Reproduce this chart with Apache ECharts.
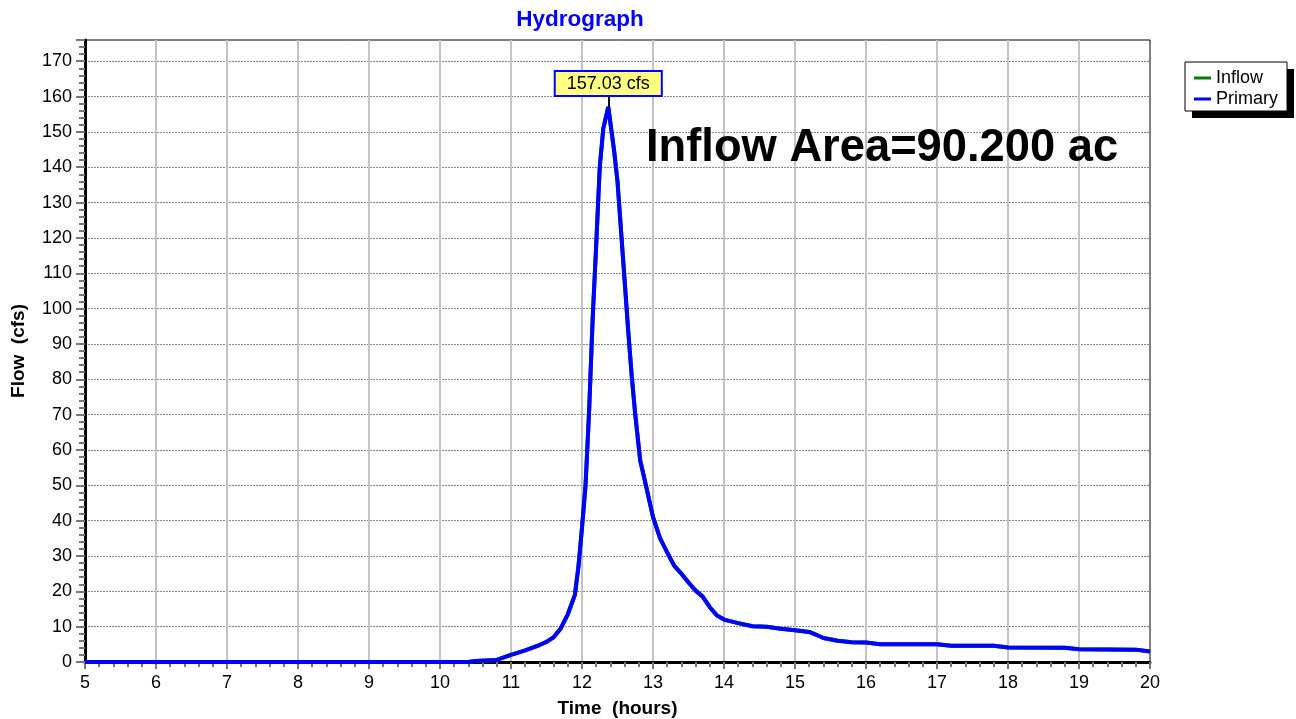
<!DOCTYPE html>
<html><head><meta charset="utf-8">
<script src="https://cdn.jsdelivr.net/npm/echarts@6/dist/echarts.min.js"></script>
<style>html,body{margin:0;padding:0;background:#fff}#c{width:1296px;height:719px}</style>
</head><body><div id="c"></div>
<script>
const times = [5,10.4,10.5,10.8,11.0,11.2,11.4,11.5,11.6,11.7,11.8,11.9,11.95,12.0,12.05,12.1,12.15,12.2,12.25,12.3,12.37,12.45,12.5,12.55,12.6,12.65,12.7,12.75,12.82,12.9,13.0,13.1,13.2,13.3,13.4,13.5,13.6,13.7,13.8,13.9,14.0,14.2,14.4,14.6,14.8,15.0,15.2,15.3,15.4,15.6,15.8,16.0,16.2,17.0,17.2,17.8,18.0,18.8,19.0,19.8,20.0];
const primary = [0,0,0.3,0.6,2.0,3.3,4.8,5.7,7.0,9.5,13.5,19,27,38,50,71,97,118,140,151,157.03,145,136,122,108,94,81,70,57,50,41,35,31,27.2,25,22.5,20.2,18.5,15.5,13.2,12,11,10.1,10,9.4,9,8.5,7.7,6.8,6,5.6,5.5,5,5,4.6,4.6,4.1,4.0,3.6,3.5,3.0];
const inflow = primary.slice();
const peakTime = 12.37, peakValue = 157.03;
const xTicks = [5,6,7,8,9,10,11,12,13,14,15,16,17,18,19,20];
const yTicks = [0,10,20,30,40,50,60,70,80,90,100,110,120,130,140,150,160,170];
const peakLabel = '157.03 cfs';
const areaNote = 'Inflow Area=90.200 ac';

const pair = arr => times.map((t,i)=>[t,arr[i]]);
const F = 'Liberation Sans, Arial, sans-serif';
const legendBase = {
  right:9,top:62,orient:'vertical',padding:[7,9,3,9],
  itemWidth:17,itemHeight:3,itemGap:3,icon:'rect',
  data:['Inflow','Primary']
};
const chart = echarts.init(document.getElementById('c'));
chart.setOption({
  animation:false,
  textStyle:{fontFamily:F},
  title:[
    {text:'Hydrograph',left:575,top:3,textAlign:'center',textStyle:{color:'#0000ff',fontSize:22.5,fontWeight:'bold',fontFamily:F}},
    {text:areaNote,left:641,top:121,textStyle:{color:'#000',fontSize:45.3,fontWeight:'bold',fontFamily:F}}
  ],
  legend:[
    Object.assign({}, legendBase, {
      backgroundColor:'#fff',borderWidth:0,
      shadowColor:'#000',shadowOffsetX:7,shadowOffsetY:7,shadowBlur:0,
      textStyle:{fontSize:18,color:'#000',fontFamily:F}
    }),
    Object.assign({}, legendBase, {
      backgroundColor:'transparent',borderColor:'#000',borderWidth:1,
      itemStyle:{opacity:0},lineStyle:{opacity:0},
      textStyle:{fontSize:18,color:'rgba(0,0,0,0)',fontFamily:F}
    })
  ],
  grid:{left:85,right:146,top:40,bottom:57,outerBoundsMode:'none',containLabel:false,show:true,borderColor:'#000',borderWidth:1,backgroundColor:'#fff'},
  xAxis:{
    type:'value',min:xTicks[0],max:xTicks[xTicks.length-1],interval:1,
    name:'Time  (hours)',nameLocation:'middle',nameGap:37,
    nameTextStyle:{fontSize:19,fontWeight:'bold',color:'#000',fontFamily:F},
    axisLine:{onZero:false,lineStyle:{color:'#000',width:3}},
    axisTick:{show:true,length:7,lineStyle:{color:'#777',width:2}},
    minorTick:{show:true,splitNumber:5,length:5,lineStyle:{color:'#777',width:2}},
    axisLabel:{fontSize:18,color:'#000',margin:12,fontFamily:F},
    splitLine:{show:true,showMaxLine:false,showMinLine:false,lineStyle:{color:'#c4c4c4',width:2}}
  },
  yAxis:{
    type:'value',min:yTicks[0],max:176,interval:10,
    name:'Flow  (cfs)',nameLocation:'middle',nameGap:57,nameRotate:90,
    nameTextStyle:{fontSize:19,fontWeight:'bold',color:'#000',fontFamily:F},
    axisLine:{onZero:false,lineStyle:{color:'#000',width:3}},
    axisTick:{show:true,length:9,lineStyle:{color:'#777',width:2}},
    minorTick:{show:true,splitNumber:5,length:6,lineStyle:{color:'#777',width:2}},
    axisLabel:{fontSize:18,color:'#000',margin:13,showMaxLabel:false,fontFamily:F},
    splitLine:{show:true,showMaxLine:false,showMinLine:false,lineStyle:{color:'#888',width:1,type:[2,1]}}
  },
  series:[
    {name:'Inflow',type:'line',data:pair(inflow),showSymbol:false,symbol:'none',
     lineStyle:{color:'#008000',width:4},itemStyle:{color:'#008000'},z:2},
    {name:'Primary',type:'line',data:pair(primary),showSymbol:false,symbol:'none',
     lineStyle:{color:'#0000ff',width:4},itemStyle:{color:'#0000ff'},z:3,
     markLine:{silent:true,symbol:'none',label:{show:false},
       lineStyle:{color:'#000',width:2,type:'solid'},
       data:[[{coord:[peakTime,peakValue]},{coord:[peakTime,160.4]}]]},
     markPoint:{silent:true,symbol:'rect',symbolSize:0,
       data:[{coord:[peakTime,peakValue],value:peakLabel}],
       label:{show:true,position:'top',distance:12,formatter:peakLabel,
         backgroundColor:'#ffff80',borderColor:'#0000ff',borderWidth:2,
         padding:[3,11,2,11],color:'#000',fontSize:18,fontFamily:F}}
    }
  ]
});
</script></body></html>
